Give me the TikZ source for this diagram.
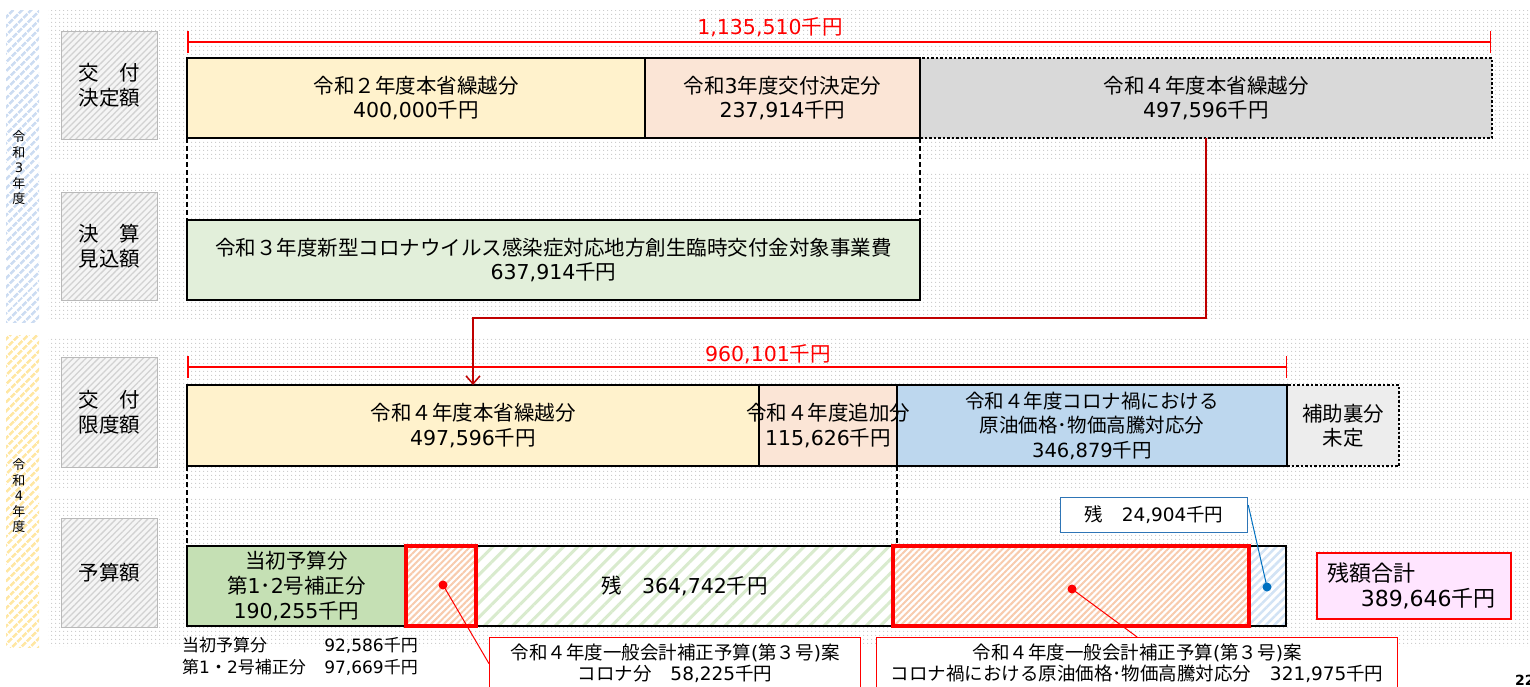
\documentclass[tikz,border=0pt]{standalone}
\usepackage{fontspec}
\setmainfont{DejaVu Sans}
\newfontfamily\jpfont{Noto Sans CJK JP}
\newfontfamily\latinfont{DejaVu Sans}
\usetikzlibrary{patterns.meta}
\usetikzlibrary{arrows.meta}

% Japanese glyphs from Noto, Latin glyphs from DejaVu
\XeTeXinterchartokenstate=1
\chardef\jpclass=10
\count255="3000
\loop
  \XeTeXcharclass\count255=\jpclass
  \ifnum\count255<"9FFF \advance\count255 by 1 \repeat
\count255="FF00
\loop
  \XeTeXcharclass\count255=\jpclass
  \ifnum\count255<"FFEF \advance\count255 by 1 \repeat
\XeTeXinterchartoks 0 \jpclass={\jpfont}
\XeTeXinterchartoks 4095 \jpclass={\jpfont}
\XeTeXinterchartoks \jpclass 0={\latinfont}
\XeTeXinterchartoks 4095 0={\latinfont}

\definecolor{barYellow}{HTML}{FFF2CC}
\definecolor{barPeach}{HTML}{FBE5D6}
\definecolor{barGray}{HTML}{D9D9D9}
\definecolor{barGreenLight}{HTML}{E2EFDA}
\definecolor{barBlue}{HTML}{BDD7EE}
\definecolor{boxGray}{HTML}{EDEDED}
\definecolor{barGreen}{HTML}{C5E0B4}
\definecolor{pinkBox}{HTML}{FFE5FF}
\definecolor{darkRed}{HTML}{C00000}
\definecolor{lineBlue}{HTML}{2E75B6}
\definecolor{dotBlue}{HTML}{0070C0}
\definecolor{hatchOrange}{HTML}{F8CBAD}
\definecolor{hatchGreen}{HTML}{D9EBCE}
\definecolor{hatchBlue}{HTML}{D2E3F5}
\definecolor{stripBlue}{HTML}{CCDCF2}
\definecolor{stripYellow}{HTML}{FFE7A3}
\definecolor{dotGray}{HTML}{C8C8C8}

\begin{document}
\begin{tikzpicture}[x=1pt,y=-1pt,
  bar/.style={draw, line width=2.5pt, minimum height=80pt, inner sep=0pt, outer sep=0pt,
    anchor=north west, align=center, font=\fontsize{20.5}{24.5}\selectfont},
  bartext/.style={align=center, inner sep=0pt, font=\fontsize{20.5}{25}\selectfont},
  lab/.style={draw=gray!55, line width=1.2pt, minimum width=96pt, inner sep=0pt, anchor=north west,
    align=center, font=\fontsize{20.5}{25}\selectfont, preaction={fill=gray!8},
    pattern={Lines[angle=45,distance=4.5pt,line width=1.3pt]}, pattern color=gray!35},
  dimline/.style={red, line width=2pt, {Bar[width=22pt,line width=1.5pt]}-{Bar[width=22pt,line width=1.5pt]}},
  dimtext/.style={red, inner sep=0pt, font=\fontsize{20.5}{24}\selectfont},
  guide/.style={line width=2pt, dash pattern=on 5pt off 3pt},
  link/.style={draw=darkRed, line width=1.5pt, -{Straight Barb[length=8pt,width=14pt]}},
  redbox/.style={draw=red, line width=4.5pt, preaction={fill=white},
    pattern={Lines[angle=45,distance=4.5pt,line width=2pt]}, pattern color=hatchOrange},
  cbox/.style={draw=red, line width=1.2pt, fill=white, anchor=north west, inner sep=0pt,
    minimum height=52pt, align=center, font=\fontsize{18.5}{21}\selectfont},
  note/.style={inner sep=0pt, font=\fontsize{17}{20}\selectfont},
  yeartext/.style={align=center, inner sep=0pt, font=\fontsize{13}{15.5}\selectfont}]

\useasboundingbox (0,0) rectangle (1530,686);
\clip (0,0) rectangle (1530,686);

% background strips and panels
\path[preaction={fill=white}, pattern={Lines[angle=45,distance=6.5pt,line width=2.8pt]}, pattern color=stripBlue] (6,10) rectangle (39,322);
\path[preaction={fill=white}, pattern={Lines[angle=45,distance=6.5pt,line width=2.8pt]}, pattern color=stripYellow] (6,335) rectangle (39,647);
\path[pattern={Dots[distance=4pt,radius=0.7pt]}, pattern color=dotGray] (48,10) rectangle (1530,160);
\path[pattern={Dots[distance=4pt,radius=0.7pt]}, pattern color=dotGray] (48,172) rectangle (1530,320);
\path[pattern={Dots[distance=4pt,radius=0.7pt]}, pattern color=dotGray] (48,338) rectangle (1530,487);
\path[pattern={Dots[distance=4pt,radius=0.7pt]}, pattern color=dotGray] (48,497) rectangle (1530,646);

\node[yeartext] (yr3) at (19,168) {令\\和\\3\\年\\度};
\node[yeartext] (yr4) at (19,496) {令\\和\\4\\年\\度};

% row labels
\node[lab, minimum height=108pt] (lab1) at (61,31) {交　付\\決定額};
\node[lab, minimum height=108pt] (lab2) at (61,192) {決　算\\見込額};
\node[lab, minimum height=110pt] (lab3) at (61,357) {交　付\\限度額};
\node[lab, minimum height=109pt] (lab4) at (61,518) {予算額};

% R3 grant decision
\coordinate (d1l) at (187,42);
\coordinate (d1r) at (1491,42);
\draw[dimline] (d1l) -- (d1r);
\node[dimtext] (dt1) at (770,27) {1,135,510千円};

\node[bar, draw=black, dotted, line width=2pt, fill=barGray, minimum width=572pt] (b1c) at (920,58) {令和４年度本省繰越分\\497,596千円};
\node[bar, fill=barYellow, minimum width=458pt] (b1a) at (187,58) {令和２年度本省繰越分\\400,000千円};
\node[bar, fill=barPeach, minimum width=275pt] (b1b) at (645,58) {令和3年度交付決定分\\237,914千円};

\node[bar, fill=barGreenLight, minimum width=733pt] (b2) at (187,220) {令和３年度新型コロナウイルス感染症対応地方創生臨時交付金対象事業費\\637,914千円};

\draw[guide] (b1a.south west) -- (b2.north west);
\draw[guide] (b1b.south east) -- (b2.north east);

% R4 grant limit
\coordinate (d2l) at (187,367);
\coordinate (d2r) at (1287,367);
\draw[dimline] (d2l) -- (d2r);
\node[dimtext] (dt2) at (768,354) {960,101千円};

\node[bar, draw=black, dotted, line width=2pt, fill=boxGray, minimum width=112pt, minimum height=81pt] (b3d) at (1287,385) {補助裏分\\未定};
\node[bar, fill=barYellow, minimum width=572pt, minimum height=81pt] (b3a) at (187,385) {令和４年度本省繰越分\\497,596千円};
\node[bar, fill=barPeach, minimum width=138pt, minimum height=81pt] (b3b) at (759,385) {};
\node[bar, fill=barBlue, minimum width=390pt, minimum height=81pt, font=\fontsize{19.5}{24.5}\selectfont] (b3c) at (897,385) {令和４年度コロナ禍における\\原油価格･物価高騰対応分\\346,879千円};
\node[bartext] (t3b) at (b3b.center) {令和４年度追加分\\115,626千円};

\draw[link] (b1c.south) -- ++(0,180) -| (b3a.north);

% R4 budget
\node[bar, draw=none, preaction={fill=white}, pattern={Lines[angle=45,distance=10pt,line width=3pt]}, pattern color=hatchGreen, minimum width=417pt] (b4c) at (476,546) {残　364,742千円};
\node[bar, draw=none, preaction={fill=white}, pattern={Lines[angle=45,distance=6pt,line width=2.5pt]}, pattern color=hatchBlue, minimum width=37pt] (b4e) at (1249,546) {};
\node[bar, minimum width=1099pt] (b4) at (187,546) {};
\draw[guide] (b3a.south west) -- (b4.north west);
\draw[guide] (b3c.south west) -- (b3c.south west |- b4.north);
\node[bar, fill=barGreen, minimum width=219pt, font=\fontsize{20.5}{25}\selectfont] (b4a) at (187,546) {当初予算分\\第1･2号補正分\\190,255千円};
\node[bar, redbox, minimum width=70pt] (b4b) at (406,546) {};
\node[bar, redbox, minimum width=356pt] (b4d) at (893,546) {};

\node[note, anchor=west] (n1a) at (182,645) {当初予算分};
\node[note, anchor=east] (n1b) at (418,645) {92,586千円};
\node[note, anchor=west] (n2a) at (182,667) {第1・2号補正分};
\node[note, anchor=east] (n2b) at (418,667) {97,669千円};

% callouts
\node[cbox, minimum width=371pt] (cb1) at (489,637) {令和４年度一般会計補正予算(第３号)案\\コロナ分　58,225千円};
\node[cbox, minimum width=521pt] (cb2) at (876,637) {令和４年度一般会計補正予算(第３号)案\\コロナ禍における原油価格･物価高騰対応分　321,975千円};
\coordinate (dot1) at (443,585);
\coordinate (dot2) at (1072,589);
\draw[red, line width=1pt] (dot1) -- (cb1.west);
\draw[red, line width=1pt] (dot2) -- (cb2.north);
\fill[red] (dot1) circle (4.5pt);
\fill[red] (dot2) circle (4.5pt);

\node[draw=lineBlue, line width=1.2pt, fill=white, anchor=north west, inner sep=0pt, minimum width=187pt,
  minimum height=35pt, font=\fontsize{18.5}{22}\selectfont] (rem2) at (1060,497) {残　24,904千円};
\coordinate (dot3) at (1267,587);
\draw[dotBlue, line width=1pt] ([yshift=-8pt]rem2.north east) -- (dot3);
\fill[dotBlue] (dot3) circle (4.5pt);

\node[draw=red, line width=1.5pt, fill=pinkBox, anchor=north west, inner xsep=11pt, inner ysep=0pt,
  text width=172pt, minimum height=66pt, align=left, font=\fontsize{22}{25}\selectfont] (tot) at (1316,552) {残額合計\\\hspace*{33pt}389,646千円};

\node[anchor=west, inner sep=0pt, font=\fontsize{14}{16}\selectfont\bfseries] (pg) at (1515,680) {22};
\end{tikzpicture}
\end{document}
